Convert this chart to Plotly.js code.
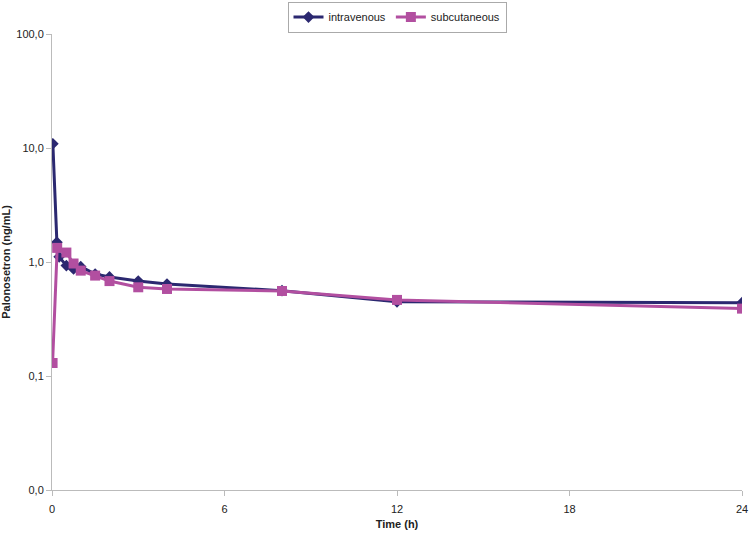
<!DOCTYPE html>
<html><head><meta charset="utf-8">
<script src="https://cdn.plot.ly/plotly-3.0.1.min.js"></script>
<style>body{margin:0;padding:0;background:#fff}#chart{width:751px;height:533px}</style>
</head><body><div id="chart"></div>
<script>
const ivTime = [0.03, 0.17, 0.25, 0.5, 0.75, 1, 1.5, 2, 3, 4, 8, 12, 24];
const ivConc = [10.9, 1.49, 1.11, 0.93, 0.87, 0.91, 0.785, 0.74, 0.68, 0.64, 0.56, 0.447, 0.44];
const scTime = [0.02, 0.18, 0.5, 0.75, 1, 1.5, 2, 3, 4, 8, 12, 24];
const scConc = [0.13, 1.33, 1.21, 0.97, 0.84, 0.76, 0.68, 0.60, 0.58, 0.557, 0.465, 0.39];
const yTickVals = [0.01, 0.1, 1, 10, 100];
const yTickText = ["0,0", "0,1", "1,0", "10,0", "100,0"];
const xTickVals = [0, 6, 12, 18, 24];

const font = {family: "Liberation Sans, Arial, sans-serif", size: 11, color: "#222"};
const data = [
  {x: ivTime, y: ivConc, name: "intravenous", type: "scatter", mode: "lines+markers",
   line: {color: "#2B2870", width: 3}, marker: {symbol: "diamond", size: 9, color: "#2B2870"}},
  {x: scTime, y: scConc, name: "subcutaneous", type: "scatter", mode: "lines+markers",
   line: {color: "#B24FA0", width: 3}, marker: {symbol: "square", size: 10, color: "#B24FA0"}}
];
const layout = {
  width: 751, height: 533,
  margin: {l: 52, r: 9, t: 34, b: 43},
  paper_bgcolor: "#fff", plot_bgcolor: "#fff",
  font: font,
  showlegend: true,
  legend: {orientation: "h", x: 0.5, xanchor: "center", y: 0.997, yref: "container", yanchor: "top",
           bordercolor: "#aaa", borderwidth: 1, font: {family: font.family, size: 11, color: "#222"},
           itemwidth: 30, tracegroupgap: 0},
  xaxis: {range: [0, 24], tickvals: xTickVals, showgrid: false, zeroline: false,
          showline: true, linecolor: "#bbb", linewidth: 1, ticks: "outside", ticklen: 5, tickcolor: "#bbb",
          ticklabelstandoff: 4,
          title: {text: "<b>Time (h)</b>", font: {family: font.family, size: 11, color: "#222"}, standoff: 6}},
  yaxis: {type: "log", range: [-2, 2], tickvals: yTickVals, ticktext: yTickText, showgrid: false, zeroline: false,
          showline: true, linecolor: "#bbb", linewidth: 1, ticks: "outside", ticklen: 5, tickcolor: "#bbb",
          title: {text: "<b>Palonosetron (ng/mL)</b>", font: {family: font.family, size: 11, color: "#222"}, standoff: 6}}
};
Plotly.newPlot("chart", data, layout, {displayModeBar: false, staticPlot: true});
</script></body></html>
